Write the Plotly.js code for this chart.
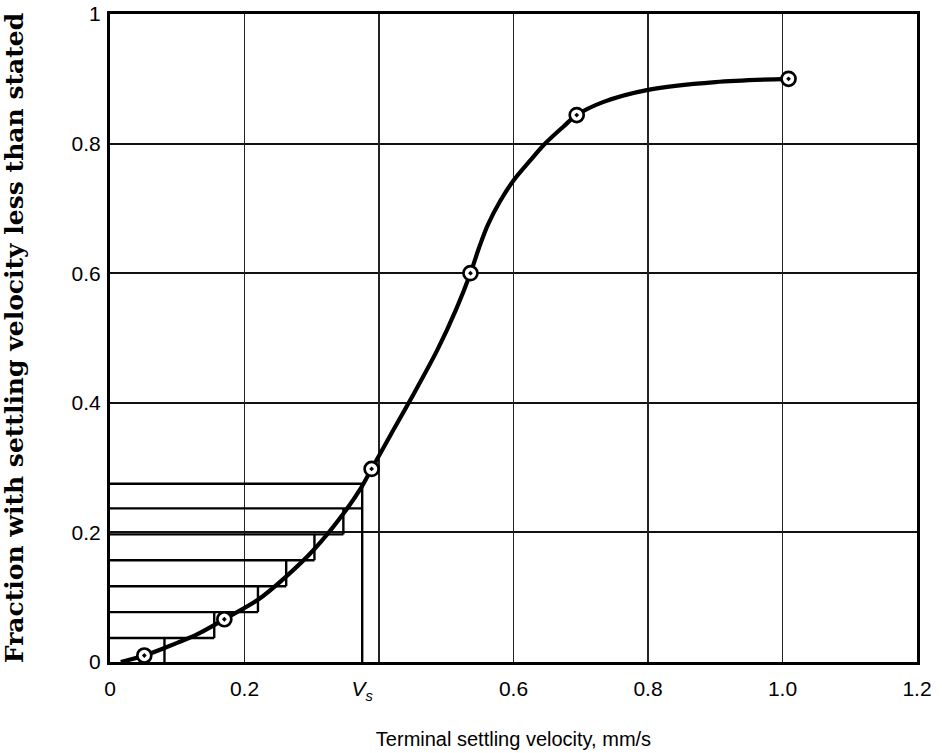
<!DOCTYPE html>
<html>
<head>
<meta charset="utf-8">
<script src="https://cdn.plot.ly/plotly-3.0.1.min.js"></script>
<style>
  html, body { margin: 0; padding: 0; background: #ffffff; }
  #chart { width: 942px; height: 753px; }
</style>
</head>
<body>
<div id="chart"></div>
<script>
// Measured samples (open circles)
const sampleVelocity = [0.051, 0.170, 0.389, 0.536, 0.694, 1.009];
const sampleFraction = [0.010, 0.066, 0.298, 0.600, 0.844, 0.900];

// Smooth curve
const curveVelocity = [0.016, 0.051, 0.082, 0.130, 0.170, 0.220, 0.261, 0.302, 0.345, 0.374, 0.389, 0.417, 0.448, 0.487, 0.515, 0.536, 0.549, 0.562, 0.580, 0.600, 0.625, 0.646, 0.674, 0.694, 0.733, 0.800, 0.900, 1.009];
const curveFraction = [0.000, 0.010, 0.022, 0.043, 0.066, 0.096, 0.131, 0.172, 0.226, 0.270, 0.298, 0.350, 0.407, 0.482, 0.545, 0.600, 0.640, 0.675, 0.711, 0.743, 0.774, 0.799, 0.826, 0.844, 0.864, 0.883, 0.895, 0.900];

// Graphical-integration strips: upper fraction of each strip and its right edge
const stripFraction = [0.037, 0.077, 0.117, 0.157, 0.197, 0.237, 0.275];
const stripVelocity = [0.081, 0.155, 0.220, 0.262, 0.304, 0.347, 0.375];

// Axis ticks
const xTickVals = [0, 0.2, 0.375, 0.6, 0.8, 1.0, 1.2];
const xTickText = ['0', '0.2', '<i>V<sub>s</sub></i>', '0.6', '0.8', '1.0', '1.2'];
const yTickVals = [0, 0.2, 0.4, 0.6, 0.8, 1];
const yTickText = ['0', '0.2', '0.4', '0.6', '0.8', '1'];

// Build the staircase segments from the strip arrays
const stepX = [], stepY = [];
const n = stripFraction.length;
for (let k = 0; k < n; k++) {
  const lower = k === 0 ? 0 : stripFraction[k - 1];
  // vertical edge of strip k (the last one, Vs, runs down to the axis)
  stepX.push(stripVelocity[k], stripVelocity[k], null);
  stepY.push(k === n - 1 ? 0 : lower, stripFraction[k], null);
  // horizontal line at the top of strip k, reaching to the next strip's edge
  const reach = stripVelocity[Math.min(k + 1, n - 1)];
  stepX.push(0, reach, null);
  stepY.push(stripFraction[k], stripFraction[k], null);
}

const traces = [
  { x: [0, 1.2], y: [0, 0], xaxis: 'x2', mode: 'markers', type: 'scatter',
    marker: { opacity: 0 }, hoverinfo: 'skip', showlegend: false },
  {
    x: stepX, y: stepY, mode: 'lines', type: 'scatter',
    line: { color: '#000', width: 2.4 }, hoverinfo: 'skip', showlegend: false,
    connectgaps: false
  },
  {
    x: curveVelocity, y: curveFraction, mode: 'lines', type: 'scatter',
    line: { color: '#000', width: 4.2, shape: 'spline', smoothing: 0.9 },
    showlegend: false
  },
  {
    x: sampleVelocity, y: sampleFraction, mode: 'markers', type: 'scatter',
    marker: { symbol: 'circle-dot', size: 14, color: '#ffffff', line: { color: '#000', width: 2.7 } },
    showlegend: false
  }
];

const layout = {
  width: 942, height: 753,
  margin: { l: 110, r: 25, t: 14, b: 91 },
  paper_bgcolor: '#ffffff', plot_bgcolor: '#ffffff',
  showlegend: false,
  font: { family: 'Liberation Sans, Arial, sans-serif', color: '#000' },
  xaxis: {
    range: [0, 1.2], tickmode: 'array', tickvals: xTickVals, ticktext: xTickText,
    showgrid: false, zeroline: false, ticks: '',
    showline: true, mirror: true, linecolor: '#000', linewidth: 3,
    tickfont: { size: 21, color: '#000' }, ticklabelstandoff: 6,
    title: { text: 'Terminal settling velocity, mm/s', font: { size: 20, color: '#000' }, standoff: 30 }
  },
  xaxis2: {
    range: [0, 1.2], overlaying: 'x', dtick: 0.2, tick0: 0,
    showgrid: true, gridcolor: '#222', gridwidth: 1.3,
    showticklabels: false, ticks: '', zeroline: false, showline: false
  },
  yaxis: {
    range: [0, 1], tickmode: 'array', tickvals: yTickVals, ticktext: yTickText,
    showgrid: true, gridcolor: '#111', gridwidth: 2, zeroline: false, ticks: '',
    showline: true, mirror: true, linecolor: '#000', linewidth: 3,
    tickfont: { size: 21, color: '#000' }, ticklabelstandoff: 2,
    title: { text: '<b>Fraction with settling velocity less than stated</b>', font: { family: 'DejaVu Serif, Liberation Serif, serif', size: 25, color: '#000' }, standoff: 42 }
  }
};

Plotly.newPlot('chart', traces, layout, { displayModeBar: false, staticPlot: true });
</script>
</body>
</html>
